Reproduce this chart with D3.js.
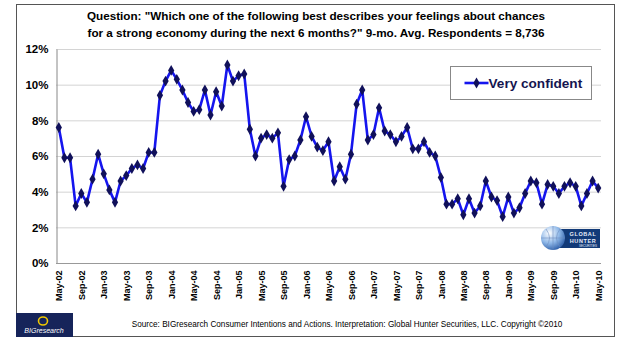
<!DOCTYPE html>
<html>
<head>
<meta charset="utf-8">
<script src="https://cdn.jsdelivr.net/npm/d3@7"></script>
<style>
  body { margin: 0; background: #fff; }
  svg { display: block; font-family: Arial, "Liberation Sans", sans-serif; }
</style>
</head>
<body>
<svg width="629" height="343"></svg>
<script>
// monthly categories May-02 .. May-10
var monthNames = ["Jan", "Feb", "Mar", "Apr", "May", "Jun", "Jul", "Aug", "Sep", "Oct", "Nov", "Dec"];
var months = [];
for (var i = 0; i < 97; i++) {
    var m = (4 + i) % 12, yr = 2 + Math.floor((4 + i) / 12);
    months.push(monthNames[m] + "-" + (yr < 10 ? "0" + yr : yr));
}

// "Very confident" share, %
var veryConfident = [
    7.6, 5.9, 5.9, 3.2, 3.9, 3.4, 4.7, 6.1,
    5.0, 4.1, 3.4, 4.6, 4.9, 5.3, 5.5, 5.3, 6.2, 6.2, 9.4, 10.2,
    10.8, 10.3, 9.7, 9.0, 8.5, 8.6, 9.7, 8.3, 9.6, 8.8, 11.1, 10.2,
    10.5, 10.6, 7.5, 6.0, 7.0, 7.2, 7.0, 7.3, 4.3, 5.8, 6.0, 6.9,
    8.2, 7.1, 6.5, 6.3, 6.8, 4.6, 5.4, 4.7, 6.1, 8.9, 9.7, 6.9,
    7.2, 8.7, 7.4, 7.2, 6.8, 7.1, 7.6, 6.4, 6.4, 6.8, 6.2, 6.0,
    4.8, 3.3, 3.3, 3.6, 2.7, 3.6, 2.8, 3.2, 4.6, 3.7, 3.5, 2.6,
    3.7, 2.8, 3.1, 3.9, 4.6, 4.5, 3.3, 4.4, 4.3, 3.9, 4.3, 4.5,
    4.3, 3.2, 3.9, 4.6, 4.2
];

var yTicks = [0, 2, 4, 6, 8, 10, 12];
var xTickLabels = months.filter(function(d, i) { return i % 4 === 0; });

var titleLines = [
    "Question: \"Which one of the following best describes your feelings about chances",
    "for a strong economy during the next 6 months?\" 9-mo. Avg. Respondents = 8,736"
];
var sourceText = "Source: BIGresearch Consumer Intentions and Actions. Interpretation: Global Hunter Securities, LLC. Copyright \u00a92010";

var svg = d3.select("svg");

// outer frame
svg.append("rect")
    .attr("x", 16.5).attr("y", 4.5)
    .attr("width", 598).attr("height", 332)
    .attr("fill", "#fff")
    .attr("stroke", "#555").attr("stroke-width", 1);

var x = d3.scalePoint().domain(months).range([56, 601]).padding(0.5);
var y = d3.scaleLinear().domain([0, 12]).range([263, 49]);

// gridlines
svg.append("g")
    .selectAll("line")
    .data(yTicks.filter(function(d) { return d > 0; }))
    .enter().append("line")
    .attr("x1", 56).attr("x2", 601)
    .attr("y1", function(d) { return y(d) + 0.5; })
    .attr("y2", function(d) { return y(d) + 0.5; })
    .attr("stroke", "#d4d4d4").attr("stroke-width", 1);

// y axis
var yAxis = d3.axisLeft(y).tickValues(yTicks).tickSize(0).tickPadding(8)
    .tickFormat(function(d) { return d + "%"; });
var gy = svg.append("g").attr("transform", "translate(56.5,0)").call(yAxis);
gy.select(".domain").attr("stroke", "#888");
gy.selectAll("text")
    .attr("font-size", 11.5).attr("font-weight", "bold").attr("fill", "#000")
    .attr("font-family", "Arial, 'Liberation Sans', sans-serif");

// x axis
var xAxis = d3.axisBottom(x).tickValues(xTickLabels).tickSize(0).tickPadding(0);
var gx = svg.append("g").attr("transform", "translate(0,263.5)").call(xAxis);
gx.select(".domain").attr("stroke", "#999").attr("d", "M56,0H601");
gx.selectAll("text")
    .attr("font-size", 9).attr("font-weight", "bold").attr("fill", "#000")
    .attr("font-family", "Arial, 'Liberation Sans', sans-serif")
    .attr("transform", "rotate(-90)")
    .attr("text-anchor", "end")
    .attr("x", -7).attr("y", 0).attr("dy", "0.35em");

// line
var line = d3.line()
    .x(function(d, i) { return x(months[i]); })
    .y(function(d) { return y(d); });

svg.append("path")
    .datum(veryConfident)
    .attr("fill", "none")
    .attr("stroke", "#1515ee")
    .attr("stroke-width", 2.6)
    .attr("stroke-linejoin", "round")
    .attr("d", line);

var diamond = d3.symbol().type(d3.symbolDiamond).size(34);
svg.append("g")
    .selectAll("path")
    .data(veryConfident)
    .enter().append("path")
    .attr("d", diamond)
    .attr("transform", function(d, i) { return "translate(" + x(months[i]) + "," + y(d) + ")"; })
    .attr("fill", "#10105a");

// legend
var lg = svg.append("g").attr("transform", "translate(450.5,66.5)");
lg.append("rect").attr("width", 141).attr("height", 33)
    .attr("fill", "#fff").attr("stroke", "#888");
lg.append("line").attr("x1", 14).attr("x2", 38).attr("y1", 16.5).attr("y2", 16.5)
    .attr("stroke", "#1515ee").attr("stroke-width", 2.6);
lg.append("path").attr("d", diamond).attr("transform", "translate(26,16.5)").attr("fill", "#10105a");
lg.append("text").attr("x", 38).attr("y", 21.5)
    .attr("font-size", 13.6).attr("font-weight", "bold").attr("fill", "#15154f")
    .text("Very confident");

// title
svg.append("g").selectAll("text")
    .data(titleLines)
    .enter().append("text")
    .attr("x", 316).attr("y", function(d, i) { return 20 + i * 16.5; })
    .attr("text-anchor", "middle")
    .attr("font-size", 11.7).attr("font-weight", "bold").attr("fill", "#000")
    .text(function(d) { return d; });

// source
svg.append("text")
    .attr("x", 347).attr("y", 327)
    .attr("text-anchor", "middle")
    .attr("font-size", 8.2).attr("fill", "#000")
    .text(sourceText);

// Global Hunter logo
var gh = svg.append("g").attr("transform", "translate(540,224)");
var grad = svg.append("defs").append("radialGradient").attr("id", "globe")
    .attr("cx", "35%").attr("cy", "30%").attr("r", "75%");
grad.append("stop").attr("offset", "0%").attr("stop-color", "#ffffff");
grad.append("stop").attr("offset", "55%").attr("stop-color", "#8fb8e8");
grad.append("stop").attr("offset", "100%").attr("stop-color", "#2d5ea8");
gh.append("rect").attr("x", 10).attr("y", 5).attr("width", 50).attr("height", 19).attr("fill", "#123a78");
gh.append("circle").attr("cx", 13).attr("cy", 14).attr("r", 12).attr("fill", "url(#globe)");
gh.append("path").attr("d", "M13,2V26M1,14H25M6,5Q13,14 6,23M20,5Q13,14 20,23")
    .attr("fill", "none").attr("stroke", "#6f8fbf").attr("stroke-width", 0.6);
gh.selectAll("text.gh")
    .data(["GLOBAL", "HUNTER"])
    .enter().append("text")
    .attr("x", 43).attr("y", function(d, i) { return 12 + i * 6.5; })
    .attr("text-anchor", "middle")
    .attr("font-size", 5.5).attr("font-weight", "bold").attr("fill", "#e8eef8")
    .attr("letter-spacing", 0.6)
    .text(function(d) { return d; });
gh.append("text").attr("x", 48).attr("y", 23).attr("text-anchor", "middle")
    .attr("font-size", 3).attr("fill", "#e8eef8").text("SECURITIES");

// BIGresearch logo
var br = svg.append("g").attr("transform", "translate(16,313)");
br.append("rect").attr("width", 57).attr("height", 24).attr("fill", "#16245a");
br.append("ellipse").attr("cx", 27).attr("cy", 8).attr("rx", 4.5).attr("ry", 4)
    .attr("fill", "none").attr("stroke", "#f0c800").attr("stroke-width", 1.6);
br.append("text").attr("x", 28).attr("y", 20).attr("text-anchor", "middle")
    .attr("font-size", 7).attr("font-style", "italic").attr("fill", "#fff")
    .text("BIGresearch");
</script>
</body>
</html>
